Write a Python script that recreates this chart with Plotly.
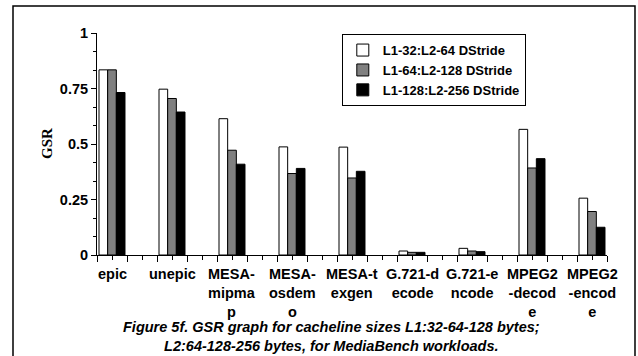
import plotly.graph_objects as go

categories = ["epic", "unepic", "MESA-mipmap", "MESA-osdemo", "MESA-texgen",
              "G.721-decode", "G.721-encode", "MPEG2-decode", "MPEG2-encode"]
tick_labels = ["epic", "unepic", "MESA-<br>mipma<br>p", "MESA-<br>osdem<br>o",
               "MESA-t<br>exgen", "G.721-d<br>ecode", "G.721-e<br>ncode",
               "MPEG2<br>-decod<br>e", "MPEG2<br>-encod<br>e"]
series_names = ["L1-32:L2-64 DStride", "L1-64:L2-128 DStride", "L1-128:L2-256 DStride"]
s1 = [0.834, 0.747, 0.614, 0.487, 0.486, 0.018, 0.030, 0.566, 0.256]
s2 = [0.834, 0.705, 0.472, 0.367, 0.347, 0.012, 0.018, 0.392, 0.196]
s3 = [0.732, 0.644, 0.409, 0.390, 0.377, 0.012, 0.015, 0.434, 0.125]
y_ticks = [0, 0.25, 0.5, 0.75, 1]
y_tick_text = ["0", "0.25", "0.5", "0.75", "1"]
caption = "Figure 5f. GSR graph for cacheline sizes L1:32-64-128 bytes;<br>L2:64-128-256 bytes, for MediaBench workloads."

colors = ["white", "#808080", "black"]
SANS = "Liberation Sans, Arial, sans-serif"

xpos = list(range(len(categories)))
fig = go.Figure()
for name, vals, c in zip(series_names, [s1, s2, s3], colors):
    fig.add_trace(go.Bar(x=xpos, y=vals, name=name, marker=dict(color=c, line=dict(color="black", width=1)),
                         customdata=categories, hovertemplate="%{customdata}: %{y}<extra></extra>"))

annotations = []
for i, t in enumerate(tick_labels):
    annotations.append(dict(x=i, xref="x", y=0, yref="paper", yanchor="top", xanchor="center",
                            yshift=-9, text=t, showarrow=False, align="center",
                            font=dict(family=SANS, size=14.5, color="black", weight="bold")))
annotations.append(dict(x=0.46, xref="paper", y=0, yref="paper", yanchor="top", xanchor="center",
                        yshift=-62, text="<b><i>%s</i></b>" % caption, showarrow=False, align="center",
                        font=dict(family=SANS, size=14.5, color="black")))
annotations.append(dict(x=0, xref="paper", xshift=-50, xanchor="center", y=0.5, yref="paper",
                        text="<b>GSR</b>", textangle=-90, showarrow=False,
                        font=dict(family="Liberation Serif, Times New Roman, serif", size=15, color="black")))

fig.update_layout(
    width=638, height=356,
    margin=dict(l=97, r=31, t=33, b=101),
    paper_bgcolor="white", plot_bgcolor="white",
    barmode="group", bargap=0.567, bargroupgap=0,
    showlegend=True,
    legend=dict(x=0.48, y=0.995, xanchor="left", yanchor="top", bordercolor="black", borderwidth=1,
                bgcolor="white", font=dict(family=SANS, size=13, color="black", weight="bold"),
                tracegroupgap=0),
    annotations=annotations,
    shapes=[dict(type="rect", xref="paper", yref="paper", x0=-0.1647, x1=1.0549, y0=-0.5, y1=1.1216,
                 line=dict(color="black", width=1.5), layer="below")],
    xaxis=dict(range=[-0.25, 8.25], tickmode="linear", tick0=-0.25, dtick=0.5, ticks="outside", ticklen=6,
               tickcolor="black", showticklabels=False, showline=True, linecolor="black", linewidth=1,
               showgrid=False, zeroline=False,
               minor=dict(tick0=-0.25, dtick=0.25, ticks="outside", ticklen=4, tickcolor="black", showgrid=False)),
    yaxis=dict(range=[0, 1], tickmode="array", tickvals=y_ticks, ticktext=y_tick_text, ticks="outside", ticklen=5,
               tickcolor="black", showline=True, linecolor="black", linewidth=1, showgrid=False, zeroline=False,
               tickfont=dict(family=SANS, size=14.5, color="black", weight="bold"),
               minor=dict(dtick=0.25 / 3, ticks="outside", ticklen=3, tickcolor="black", showgrid=False)),
)
fig.write_html("out.html", config={"displayModeBar": False},
               post_script="document.body.style.margin='0';document.body.style.overflow='hidden';")
